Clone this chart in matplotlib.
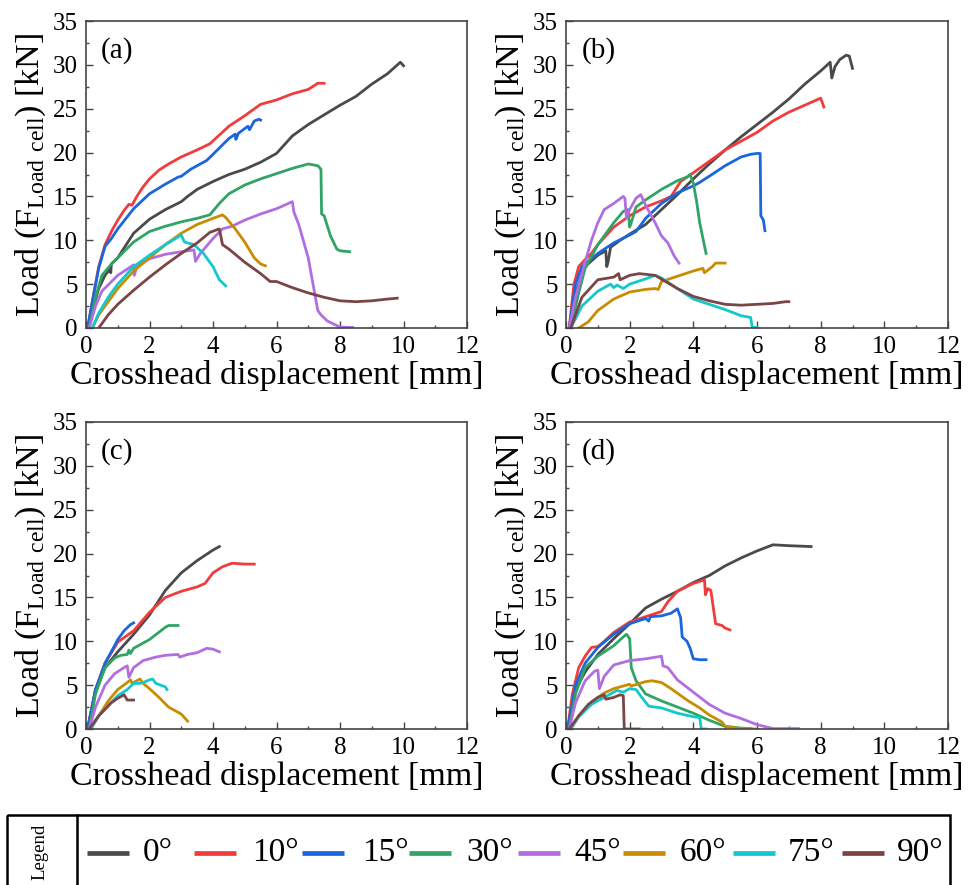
import matplotlib.pyplot as plt
from matplotlib.ticker import MultipleLocator
from matplotlib.patches import Rectangle

plt.rcParams['font.family'] = ['Liberation Serif', 'DejaVu Serif']
plt.rcParams['mathtext.fontset'] = 'custom'
plt.rcParams['mathtext.rm'] = 'Liberation Serif'

angles = ['0°', '10°', '15°', '30°', '45°', '60°', '75°', '90°']
colors = ['#4a4a4a', '#f03c3c', '#1a66dc', '#2fa465', '#b06ee0',
          '#c88c00', '#12c8cc', '#7b4545']

# (a) load-displacement curves, [x in mm], [load in kN]
a_0 = [[0.05, 0.2, 0.4, 0.6, 0.75, 0.78, 0.8, 1.0, 1.5, 2.0, 2.5, 3.0, 3.2, 3.5, 4.0, 4.5, 5.0, 5.5, 6.0, 6.5, 7.0, 7.5, 8.0, 8.5, 9.0, 9.5, 9.9, 10.0],
       [0, 2.0, 4.5, 6.0, 6.7, 6.3, 7.3, 8.0, 10.8, 12.4, 13.5, 14.4, 15.0, 15.8, 16.7, 17.5, 18.1, 18.9, 19.9, 21.9, 23.2, 24.3, 25.4, 26.4, 27.8, 29.0, 30.3, 29.9]]
a_10 = [[0.05, 0.2, 0.4, 0.6, 0.8, 1.0, 1.2, 1.35, 1.45, 1.6, 1.8, 2.0, 2.3, 2.6, 3.0, 3.5, 3.9, 4.2, 4.5, 5.0, 5.5, 6.0, 6.5, 7.0, 7.3, 7.5],
        [0, 3.0, 7.0, 9.5, 11.0, 12.3, 13.4, 14.1, 14.0, 15.0, 16.1, 17.0, 18.0, 18.7, 19.5, 20.3, 21.0, 22.0, 23.0, 24.2, 25.5, 26.0, 26.7, 27.2, 27.9, 27.9]]
a_15 = [[0.05, 0.2, 0.4, 0.6, 0.8, 1.0, 1.5, 2.0, 2.5, 2.9, 3.0, 3.3, 3.8, 4.0, 4.5, 4.7, 4.72, 4.8, 5.1, 5.15, 5.3, 5.45, 5.5],
        [0, 3.0, 6.8, 9.3, 10.2, 11.3, 13.6, 15.3, 16.4, 17.2, 17.3, 18.1, 19.1, 19.8, 21.6, 22.1, 21.5, 22.2, 23.0, 22.6, 23.6, 23.8, 23.7]]
a_30 = [[0.1, 0.3, 0.5, 0.8, 1.0, 1.5, 2.0, 2.5, 3.0, 3.5, 3.9, 4.2, 4.5, 5.0, 5.5, 6.0, 6.5, 7.0, 7.3, 7.4, 7.42, 7.5, 7.7, 7.9, 8.0, 8.3],
        [0, 3.5, 6.0, 7.3, 8.0, 9.8, 11.0, 11.6, 12.1, 12.5, 12.9, 14.2, 15.3, 16.3, 17.0, 17.6, 18.2, 18.7, 18.5, 18.1, 13.0, 12.8, 10.5, 9.0, 8.8, 8.7]]
a_45 = [[0.1, 0.3, 0.5, 1.0, 1.5, 1.52, 1.6, 2.0, 2.5, 3.0, 3.4, 3.45, 3.6, 4.0, 4.3, 4.6, 5.0, 5.5, 6.0, 6.5, 6.55, 6.7, 7.0, 7.3, 7.4, 7.6, 8.0, 8.4],
        [0, 2.5, 4.2, 6.0, 7.2, 6.0, 7.0, 7.9, 8.4, 8.7, 8.9, 7.6, 8.5, 10.2, 11.3, 11.6, 12.3, 13.0, 13.6, 14.4, 13.2, 11.8, 8.0, 2.0, 1.5, 0.8, 0.1, 0.05]]
a_60 = [[0.2, 0.4, 0.7, 1.0, 1.5, 2.0, 2.5, 3.0, 3.5, 4.0, 4.3, 4.4, 4.7, 5.0, 5.3, 5.5, 5.65],
        [0, 1.5, 3.0, 4.5, 6.5, 8.0, 9.5, 10.8, 11.8, 12.5, 12.9, 12.6, 11.3, 9.8, 8.0, 7.3, 7.1]]
a_75 = [[0.2, 0.4, 0.7, 1.0, 1.5, 2.0, 2.5, 3.0, 3.1, 3.4, 3.7, 4.0, 4.2, 4.4],
        [0, 1.7, 3.5, 5.0, 7.0, 8.3, 9.5, 10.6, 9.8, 9.5, 8.5, 7.0, 5.5, 4.8]]
a_90 = [[0.4, 0.7, 1.0, 1.5, 2.0, 2.5, 3.0, 3.5, 3.9, 4.2, 4.3, 4.5, 5.0, 5.5, 5.8, 6.0, 6.5, 7.0, 7.5, 8.0, 8.5, 9.0, 9.5, 9.8],
        [0, 1.5, 2.7, 4.3, 5.8, 7.2, 8.5, 9.7, 10.9, 11.3, 9.5, 9.0, 7.5, 6.2, 5.3, 5.3, 4.6, 4.0, 3.5, 3.1, 3.0, 3.1, 3.3, 3.4]]

# (b)
b_0 = [[0.1, 0.3, 0.6, 1.0, 1.25, 1.28, 1.32, 1.4, 1.7, 2.0, 2.5, 3.0, 3.5, 4.0, 4.5, 5.0, 5.5, 6.0, 6.5, 7.0, 7.5, 8.0, 8.3, 8.35, 8.45, 8.6, 8.8, 8.9, 9.0],
       [0, 4.0, 7.0, 8.3, 8.8, 7.0, 7.5, 9.2, 10.0, 10.7, 11.8, 13.5, 15.2, 17.0, 18.7, 20.3, 21.8, 23.2, 24.6, 26.1, 27.8, 29.3, 30.3, 28.5, 29.8, 30.6, 31.1, 31.0, 29.6]]
b_10 = [[0.1, 0.25, 0.4, 0.6, 0.8, 1.0, 1.5, 2.0, 2.5, 3.0, 3.3, 3.6, 4.0, 4.5, 5.0, 5.5, 6.0, 6.5, 7.0, 7.5, 8.0, 8.1],
        [0, 5.0, 7.0, 7.8, 8.5, 9.5, 11.5, 12.8, 13.8, 14.5, 15.0, 16.7, 17.7, 19.0, 20.3, 21.3, 22.3, 23.6, 24.6, 25.4, 26.2, 25.2]]
b_15 = [[0.1, 0.3, 0.5, 1.0, 1.5, 2.0, 2.2, 2.5, 3.0, 3.5, 4.0, 4.2, 4.5, 5.0, 5.5, 5.8, 6.0, 6.1, 6.12, 6.2, 6.25],
        [0, 5.0, 7.0, 8.5, 9.7, 10.6, 11.0, 12.5, 14.2, 15.4, 16.2, 16.6, 17.3, 18.5, 19.5, 19.8, 19.9, 19.9, 12.8, 12.3, 11.1]]
b_30 = [[0.15, 0.4, 0.6, 1.0, 1.5, 1.8, 1.95, 2.0, 2.05, 2.2, 2.5, 3.0, 3.5, 3.8, 3.9, 4.0, 4.1, 4.2, 4.4],
        [0, 4.0, 6.8, 9.5, 12.0, 13.3, 13.5, 11.5, 12.0, 13.8, 14.6, 15.8, 16.8, 17.2, 17.5, 16.5, 14.5, 12.0, 8.5]]
b_45 = [[0.1, 0.3, 0.6, 0.8, 1.0, 1.2, 1.5, 1.8, 1.85, 1.9, 2.0, 2.2, 2.35, 2.5, 2.8, 3.0, 3.2, 3.4, 3.55],
        [0, 3.5, 7.5, 10.0, 12.0, 13.5, 14.2, 15.0, 14.8, 12.5, 13.5, 14.8, 15.2, 14.0, 12.0, 10.5, 9.7, 8.2, 7.4]]
b_60 = [[0.4, 0.7, 1.0, 1.5, 2.0, 2.5, 2.8, 2.9, 3.0, 3.5, 4.0, 4.3, 4.35, 4.6, 4.7, 5.0],
        [0, 0.7, 2.0, 3.3, 4.1, 4.4, 4.5, 4.4, 5.3, 5.9, 6.5, 6.8, 6.3, 7.0, 7.4, 7.4]]
b_75 = [[0.15, 0.5, 1.0, 1.4, 1.5, 1.6, 1.8, 2.0, 2.5, 2.8, 3.0, 3.5, 4.0, 4.5, 5.0, 5.5, 5.8, 5.85, 6.0],
        [0, 2.5, 4.2, 5.0, 4.6, 4.9, 4.5, 5.0, 5.6, 6.0, 5.7, 4.5, 3.3, 2.7, 2.1, 1.4, 1.2, 0.1, 0.05]]
b_90 = [[0.15, 0.5, 1.0, 1.5, 1.65, 1.7, 2.0, 2.3, 2.8, 3.5, 4.0, 4.5, 5.0, 5.5, 6.0, 6.5, 6.9, 7.0],
        [0, 3.5, 5.5, 5.8, 6.2, 5.5, 6.0, 6.2, 6.0, 4.5, 3.6, 3.1, 2.7, 2.6, 2.7, 2.8, 3.0, 3.0]]

# (c)
c_0 = [[0.05, 0.3, 0.6, 1.0, 1.5, 2.0, 2.5, 3.0, 3.5, 4.0, 4.2],
       [0, 4.5, 7.0, 8.8, 10.8, 13.0, 15.8, 17.8, 19.2, 20.4, 20.8]]
c_10 = [[0.05, 0.3, 0.6, 1.0, 1.5, 2.0, 2.5, 3.0, 3.5, 3.75, 4.0, 4.3, 4.6, 5.0, 5.3],
        [0, 4.5, 7.5, 9.9, 11.2, 13.3, 15.0, 15.7, 16.2, 16.6, 17.8, 18.5, 18.9, 18.8, 18.8]]
c_15 = [[0.05, 0.3, 0.6, 0.9, 1.0, 1.2, 1.4, 1.5],
        [0, 4.5, 7.5, 9.5, 10.2, 11.2, 11.9, 12.1]]
c_30 = [[0.1, 0.3, 0.6, 0.9, 1.1, 1.3, 1.35, 1.4, 1.5, 2.0, 2.5, 2.6, 2.9],
        [0, 4.0, 7.0, 8.1, 8.4, 8.5, 9.0, 8.6, 9.2, 10.2, 11.6, 11.8, 11.8]]
c_45 = [[0.1, 0.3, 0.6, 0.9, 1.2, 1.3, 1.35, 1.5, 1.8, 2.2, 2.5, 2.9, 2.95, 3.2, 3.5, 3.8, 4.0, 4.2],
        [0, 2.5, 5.0, 6.3, 7.0, 7.2, 5.9, 7.0, 7.8, 8.2, 8.4, 8.5, 8.2, 8.5, 8.7, 9.2, 9.1, 8.8]]
c_60 = [[0.15, 0.4, 0.7, 1.0, 1.3, 1.4, 1.45, 1.6, 1.7, 1.8, 2.0, 2.3, 2.6, 3.0, 3.2],
        [0, 1.5, 3.2, 4.5, 5.3, 5.6, 5.2, 5.5, 5.7, 5.2, 4.6, 3.6, 2.5, 1.7, 0.9]]
c_75 = [[0.15, 0.4, 0.7, 1.0, 1.3, 1.5, 1.7, 1.8, 2.0, 2.1, 2.2, 2.5, 2.55],
        [0, 1.5, 2.7, 3.8, 4.5, 5.2, 5.2, 5.3, 5.6, 5.7, 5.2, 4.8, 4.5]]
c_90 = [[0.1, 0.4, 0.8, 1.0, 1.2, 1.3, 1.4, 1.5],
        [0, 1.5, 3.0, 3.5, 3.9, 3.3, 3.3, 3.3]]

# (d)
d_0 = [[0.05, 0.3, 0.6, 0.8, 1.0, 1.5, 2.0, 2.5, 3.0, 3.5, 4.0, 4.5, 5.0, 5.5, 6.0, 6.5, 7.0, 7.7],
       [0, 4.5, 6.5, 7.5, 8.5, 10.3, 12.0, 13.8, 14.8, 15.7, 16.7, 17.5, 18.6, 19.5, 20.3, 21.0, 20.9, 20.8]]
d_10 = [[0.05, 0.2, 0.4, 0.6, 0.8, 1.0, 1.2, 1.5, 2.0, 2.5, 3.0, 3.2, 3.5, 4.0, 4.35, 4.38, 4.45, 4.55, 4.7, 4.9, 5.0, 5.15],
        [0, 4.0, 7.0, 8.3, 9.3, 9.4, 10.0, 11.0, 12.2, 12.8, 13.4, 14.5, 15.7, 16.6, 17.0, 15.3, 16.0, 15.8, 12.0, 11.8, 11.5, 11.3]]
d_15 = [[0.05, 0.3, 0.6, 1.0, 1.5, 2.0, 2.5, 2.6, 2.65, 3.0, 3.3, 3.5, 3.6, 3.65, 3.8, 3.9, 4.0, 4.2, 4.4],
        [0, 5.0, 7.5, 9.3, 10.8, 12.0, 12.6, 12.3, 12.8, 12.9, 13.2, 13.7, 12.7, 10.5, 10.0, 9.2, 8.0, 7.9, 7.9]]
d_30 = [[0.1, 0.3, 0.6, 1.0, 1.5, 1.8, 1.9, 2.0, 2.05, 2.2, 2.5, 3.0, 3.5, 4.0, 4.5, 5.0, 5.5, 5.8],
        [0, 4.0, 7.0, 8.3, 9.5, 10.5, 10.8, 10.3, 7.0, 5.5, 4.0, 3.2, 2.5, 1.8, 1.0, 0.3, 0.1, 0.05]]
d_45 = [[0.1, 0.3, 0.6, 0.9, 1.0, 1.05, 1.2, 1.5, 2.0, 2.5, 3.0, 3.05, 3.2, 3.5, 4.0, 4.5, 5.0, 5.5, 6.0, 6.5, 7.3],
        [0, 3.0, 5.5, 6.6, 6.7, 4.6, 6.0, 7.3, 7.8, 8.0, 8.3, 7.2, 7.0, 5.6, 4.2, 2.8, 1.8, 1.2, 0.5, 0.05, 0.05]]
d_60 = [[0.15, 0.4, 0.8, 1.2, 1.5, 2.0, 2.05, 2.5, 2.7, 3.0, 3.3, 3.8, 4.2, 4.5, 4.9, 5.0, 5.5, 6.0],
        [0, 1.5, 3.1, 4.1, 4.6, 5.1, 4.9, 5.4, 5.5, 5.3, 4.6, 3.3, 2.4, 1.6, 0.8, 0.3, 0.05, 0.0]]
d_75 = [[0.15, 0.4, 0.8, 1.2, 1.5, 1.6, 1.8, 2.0, 2.2, 2.4, 2.6, 3.0, 3.5, 4.0, 4.2, 4.25, 4.4],
        [0, 1.4, 2.8, 3.6, 4.2, 4.4, 4.2, 4.6, 4.5, 3.5, 2.6, 2.4, 1.8, 1.4, 1.3, 0.0, 0.0]]
d_90 = [[0.1, 0.4, 0.7, 1.0, 1.2, 1.25, 1.5, 1.7, 1.8, 1.83, 2.3],
        [0, 1.5, 2.8, 3.6, 3.9, 3.4, 3.6, 3.9, 3.8, 0.0, 0.0]]

panels = {
    '(a)': [a_0, a_10, a_15, a_30, a_45, a_60, a_75, a_90],
    '(b)': [b_0, b_10, b_15, b_30, b_45, b_60, b_75, b_90],
    '(c)': [c_0, c_10, c_15, c_30, c_45, c_60, c_75, c_90],
    '(d)': [d_0, d_10, d_15, d_30, d_45, d_60, d_75, d_90],
}

W, H = 969, 885
fig = plt.figure(figsize=(W / 100, H / 100), dpi=100)

# axes boxes in pixels: left, top, right, bottom
boxes = {
    '(a)': (86, 21, 467, 328),
    '(b)': (566, 21, 948, 328),
    '(c)': (86, 422, 467, 729),
    '(d)': (566, 422, 948, 729),
}

for tag, curves in panels.items():
    l, t, r, b = boxes[tag]
    ax = fig.add_axes([l / W, 1 - b / H, (r - l) / W, (b - t) / H])
    for (xs, ys), c in zip(curves, colors):
        ax.plot(xs, ys, color=c, lw=2.0)
    ax.set_xlim(0, 12)
    ax.set_ylim(0, 35)
    ax.xaxis.set_major_locator(MultipleLocator(2))
    ax.xaxis.set_minor_locator(MultipleLocator(1))
    ax.yaxis.set_major_locator(MultipleLocator(5))
    ax.yaxis.set_minor_locator(MultipleLocator(2.5))
    ax.tick_params(which='both', direction='in', labelsize=18, color='#444444')
    ax.tick_params(which='major', length=5, width=1.0, pad=6)
    ax.tick_params(which='minor', length=2.5, width=1.0)
    for s in ax.spines.values():
        s.set_color('#444444')
        s.set_linewidth(1.2)
    ax.set_xlabel('Crosshead displacement [mm]', fontsize=24.5, labelpad=1)
    ax.set_ylabel(r'Load (F$_\mathrm{Load\ cell}$) [kN]', fontsize=24.5, labelpad=3)
    ax.text(0.04, 0.905, tag, transform=ax.transAxes, fontsize=21,
            ha='left', va='center')

# legend strip along the bottom edge
lg = fig.add_axes([0, 0, 1, 1], facecolor='none')
lg.set_xlim(0, W)
lg.set_ylim(H, 0)
lg.axis('off')
lg.add_patch(Rectangle((7, 815), 943, 90, fill=False, ec='black', lw=1.8,
                       clip_on=False))
lg.plot([77, 77], [815, 885], color='black', lw=1.8)
lg.text(40, 852, 'Legend', rotation=90, ha='center', va='center', fontsize=13.5)
line_x = [87, 194, 302, 409, 518, 623, 733, 842]
text_x = [143, 252, 362, 466, 574, 680, 788, 897]
for lab, c, lx, tx in zip(angles, colors, line_x, text_x):
    lg.plot([lx, lx + 42], [853, 853], color=c, lw=3.4, solid_capstyle='butt')
    lg.text(tx, 853, lab, ha='left', va='center', fontsize=24)

fig.savefig('out.png', dpi=100)
